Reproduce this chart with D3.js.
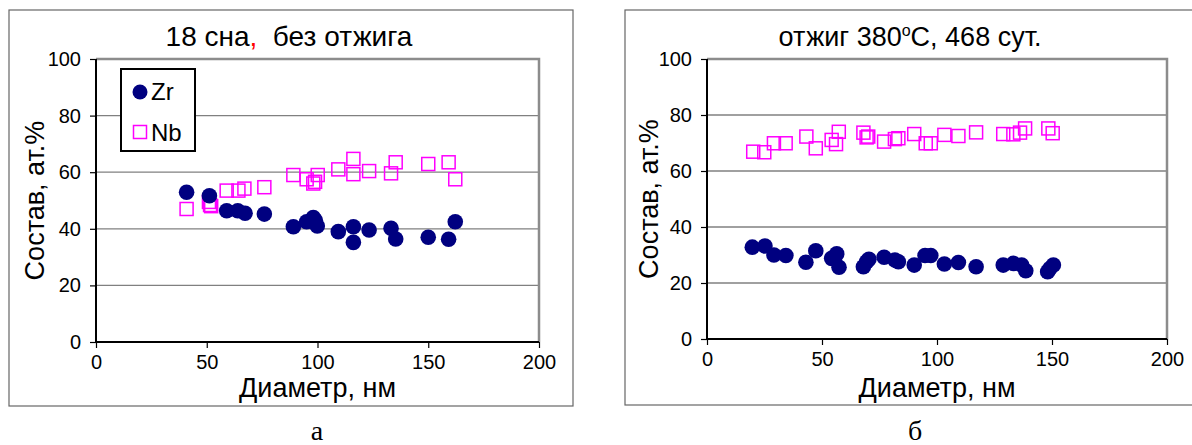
<!DOCTYPE html>
<html lang="ru">
<head>
<meta charset="UTF-8">
<title>Состав vs диаметр</title>
<script src="https://d3js.org/d3.v7.min.js"></script>
<style>
    body { margin: 0; background: #fff; }
    svg { display: block; font-family: Arial, "Liberation Sans", sans-serif; }
    .tick text { font-size: 20px; fill: #000; }
    .tick line { stroke: #000; }
</style>
</head>
<body>
<svg id="chart" width="1192" height="445"></svg>
<script>
// --- data ---
const xTicks = [0, 50, 100, 150, 200];
const yTicks = [0, 20, 40, 60, 80, 100];

// panel a: 18 cha, no annealing
const zrA = [
    [40.9, 52.9], [51.2, 51.7], [59, 46.4], [64, 46.4], [67.3, 45.5], [76, 45.2],
    [89.1, 40.7], [95.1, 42.5], [98.1, 44], [99, 43], [99.9, 41], [109.4, 39],
    [116.2, 40.7], [116.2, 35.2], [123.3, 39.6], [133.2, 40.2], [135.3, 36.4],
    [150, 37], [159.2, 36.3], [162.2, 42.5]
];
const nbA = [
    [40.9, 47], [51.5, 48.4], [51, 49.5], [52, 48], [59, 53.5], [64.3, 53.5],
    [67, 54.2], [76, 54.7], [89.1, 59], [95.1, 57.5], [98.1, 56], [98.9, 56.6],
    [100.1, 59], [109.4, 61], [116.2, 64.7], [116.2, 59.3], [123.3, 60.4],
    [133.2, 59.6], [135.3, 63.5], [150, 62.9], [159.2, 63.5], [162.2, 57.5]
];

// panel б: annealed 380C, 468 days
const zrB = [
    [19.7, 32.8], [25.2, 33.2], [29.1, 30], [34.3, 29.8], [43, 27.4], [47.3, 31.5],
    [54.2, 28.8], [56.4, 30.4], [57.4, 25.6], [68, 25.8], [69.4, 27.6], [70.4, 28.5],
    [77, 29.2], [81.7, 28.2], [83.2, 27.6], [90.1, 26.4], [94.8, 29.8], [97.3, 29.8],
    [103.2, 26.8], [109.3, 27.3], [117, 25.8], [128.8, 26.4], [133.2, 27], [136.8, 26.4],
    [138.6, 24.4], [148.1, 24], [149.1, 25.2], [150.6, 26.4]
];
const nbB = [
    [20.1, 66.9], [24.9, 66.7], [29.1, 69.9], [34.2, 69.9], [43.2, 72.3], [47.3, 68.1],
    [54.2, 71.1], [56.1, 69.6], [57.3, 74], [68, 73.7], [69.4, 72], [70.1, 72.3],
    [77, 70.5], [81.7, 71.4], [83.2, 71.7], [90.1, 73.2], [95.1, 69.9], [97.3, 69.9],
    [103.2, 72.9], [109.3, 72.5], [117, 73.8], [128.8, 73.2], [133.2, 73.1], [136.1, 73.7],
    [138.3, 75.2], [148.4, 75.2], [150.3, 73.5]
];

const zrColor = "#000080";
const nbColor = "#ff00ff";

const svg = d3.select("#chart");

function drawPanel(cfg) {
    const g = svg.append("g");

    // outer frame
    g.append("rect")
        .attr("x", cfg.frame[0]).attr("y", cfg.frame[1])
        .attr("width", cfg.frame[2]).attr("height", cfg.frame[3])
        .attr("fill", "none").attr("stroke", "#666").attr("stroke-width", 1.2);

    const x = d3.scaleLinear().domain([0, 200]).range([cfg.left, cfg.right]);
    const y = d3.scaleLinear().domain([0, 100]).range([cfg.bottom, cfg.top]);

    // gridlines
    g.append("g").selectAll("line")
        .data(yTicks.filter(d => d > 0 && d < 100))
        .join("line")
        .attr("x1", cfg.left).attr("x2", cfg.right)
        .attr("y1", d => y(d)).attr("y2", d => y(d))
        .attr("stroke", "#808080").attr("stroke-width", 1.3);

    // plot area border (top + right, grey)
    g.append("path")
        .attr("d", `M${cfg.left},${cfg.top}H${cfg.right}V${cfg.bottom}`)
        .attr("fill", "none").attr("stroke", "#8c8c8c").attr("stroke-width", 2.5);

    // axes
    const yAxis = g.append("g")
        .attr("transform", `translate(${cfg.left},0)`)
        .call(d3.axisLeft(y).tickValues(yTicks).tickSize(6).tickPadding(9));
    const xAxis = g.append("g")
        .attr("transform", `translate(0,${cfg.bottom})`)
        .call(d3.axisBottom(x).tickValues(xTicks).tickSize(6).tickPadding(7));
    [yAxis, xAxis].forEach(a => {
        a.select(".domain").remove();
        a.selectAll(".tick line").attr("stroke", "#666").attr("stroke-width", 1.2);
    });
    g.append("line")
        .attr("x1", cfg.left).attr("x2", cfg.left)
        .attr("y1", cfg.top).attr("y2", cfg.bottom)
        .attr("stroke", "#000").attr("stroke-width", 2);
    g.append("line")
        .attr("x1", cfg.left).attr("x2", cfg.right)
        .attr("y1", cfg.bottom).attr("y2", cfg.bottom)
        .attr("stroke", "#000").attr("stroke-width", 2);

    // points: Nb squares first, Zr dots on top
    const s = 13;
    g.append("g").selectAll("rect")
        .data(cfg.nb)
        .join("rect")
        .attr("x", d => x(d[0]) - s / 2).attr("y", d => y(d[1]) - s / 2)
        .attr("width", s).attr("height", s)
        .attr("fill", "none").attr("stroke", nbColor).attr("stroke-width", 1.5);
    g.append("g").selectAll("circle")
        .data(cfg.zr)
        .join("circle")
        .attr("cx", d => x(d[0])).attr("cy", d => y(d[1]))
        .attr("r", 7.8)
        .attr("fill", zrColor);

    // axis titles
    const midX = (cfg.left + cfg.right) / 2;
    g.append("text")
        .attr("x", midX).attr("y", 397)
        .attr("text-anchor", "middle").attr("font-size", 27)
        .text("Диаметр, нм");
    g.append("text")
        .attr("transform", `translate(${cfg.yTitleX},${(cfg.top + cfg.bottom) / 2}) rotate(-90)`)
        .attr("text-anchor", "middle").attr("font-size", 27)
        .text("Состав, ат.%");

    // panel letter under frame
    g.append("text")
        .attr("x", cfg.letterX).attr("y", 440)
        .attr("text-anchor", "middle")
        .attr("font-family", "'Liberation Serif', 'Times New Roman', serif")
        .attr("font-size", 28)
        .text(cfg.letter);

    return { g, x, y };
}

// panel a
const pa = drawPanel({
    frame: [9, 10, 564, 396],
    left: 96, right: 539, top: 59, bottom: 342,
    zr: zrA, nb: nbA, yTitleX: 44, letter: "а", letterX: 317
});
const titleA = pa.g.append("text")
    .attr("x", 289).attr("y", 46)
    .attr("text-anchor", "middle").attr("font-size", 28)
    .attr("xml:space", "preserve");
titleA.append("tspan").text("18 сна");
titleA.append("tspan").attr("fill", "#ff0000").text(",");
titleA.append("tspan").text("  без отжига");

// legend
const leg = pa.g.append("g");
leg.append("rect")
    .attr("x", 121).attr("y", 69).attr("width", 74).attr("height", 82)
    .attr("fill", "#fff").attr("stroke", "#000").attr("stroke-width", 2);
leg.append("circle").attr("cx", 140).attr("cy", 92).attr("r", 7.5).attr("fill", zrColor);
leg.append("rect").attr("x", 133.5).attr("y", 125.5).attr("width", 13).attr("height", 13)
    .attr("fill", "none").attr("stroke", nbColor).attr("stroke-width", 1.5);
leg.append("text").attr("x", 151).attr("y", 100).attr("font-size", 24).text("Zr");
leg.append("text").attr("x", 151).attr("y", 141).attr("font-size", 24).text("Nb");

// panel б
const pb = drawPanel({
    frame: [625, 10, 580, 395],
    left: 707, right: 1167, top: 59, bottom: 339,
    zr: zrB, nb: nbB, yTitleX: 658, letter: "б", letterX: 915
});
const titleB = pb.g.append("text")
    .attr("x", 910).attr("y", 46)
    .attr("text-anchor", "middle").attr("font-size", 27);
titleB.append("tspan").text("отжиг 380");
titleB.append("tspan").attr("font-size", 16).attr("dy", -10).text("o");
titleB.append("tspan").attr("dy", 10).text("C, 468 сут.");
</script>
</body>
</html>
